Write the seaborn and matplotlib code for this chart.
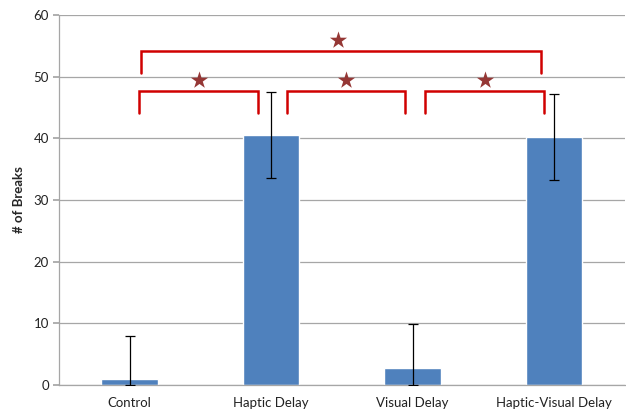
import numpy as np
import pandas as pd
import matplotlib.pyplot as plt
import seaborn as sns

# Werte
conditions = ["Control", "Haptic Delay", "Visual Delay", "Haptic-Visual Delay"]
breaks = [1.0, 40.5, 2.8, 40.2]
errors = [7.0, 7.0, 7.1, 7.0]

# Signifikanz-Klammern: (links, rechts, unten, oben)
brackets = [(0.08, 2.91, 50.6, 54.1),
            (0.07, 0.91, 44.1, 47.6),
            (1.11, 1.95, 44.1, 47.6),
            (2.09, 2.93, 44.1, 47.6)]
stars_x = [1.47, 0.49, 1.53, 2.51]
stars_y = [55.9, 49.4, 49.4, 49.4]

sns.set_theme(style="white")
plt.rcParams["font.family"] = ["Lato", "DejaVu Sans"]

df = pd.DataFrame({"condition": conditions, "breaks": breaks, "err": errors})

fig = plt.figure(figsize=(6.26, 4.13), dpi=100)
ax = fig.add_axes([0.094, 0.068, 0.904, 0.896])

sns.barplot(data=df, x="condition", y="breaks", color="#4F81BD",
            width=0.4, saturation=1, errorbar=None, ax=ax, zorder=2)

# Fehlerbalken (unten bei 0 abgeschnitten)
lo = np.minimum(df["err"], df["breaks"])
ax.errorbar(np.arange(len(df)), df["breaks"], yerr=[lo, df["err"]],
            fmt="none", ecolor="black", elinewidth=0.9, capsize=3.5,
            capthick=0.9, zorder=3)

for x0, x1, yb, yt in brackets:
    ax.plot([x0, x0, x1, x1], [yb, yt, yt, yb], color="#D00000",
            linewidth=1.8, solid_joinstyle="miter", zorder=4, clip_on=False)
ax.scatter(stars_x, stars_y, marker="*", s=170, color="#953735",
           linewidths=0, zorder=5)

ax.set_ylim(0, 60)
ax.set_xlim(-0.5, 3.5)
ax.set_yticks(range(0, 61, 10))
ax.yaxis.grid(True, color="#A6A6A6", linewidth=0.9)
ax.set_axisbelow(True)
for s in ["top", "right"]:
    ax.spines[s].set_visible(False)
for s in ["left", "bottom"]:
    ax.spines[s].set_color("#A6A6A6")
    ax.spines[s].set_linewidth(0.9)
ax.tick_params(axis="y", left=True, length=4, color="#A6A6A6",
               labelsize=9.5, pad=3, labelcolor="#222222")
ax.tick_params(axis="x", bottom=False, length=0, labelsize=9.5, pad=9,
               labelcolor="#222222")
ax.set_xlabel("")
ax.set_ylabel("# of Breaks", fontsize=9.5, fontweight="bold", labelpad=6)

fig.savefig("out.png", dpi=100)
plt.close(fig)
